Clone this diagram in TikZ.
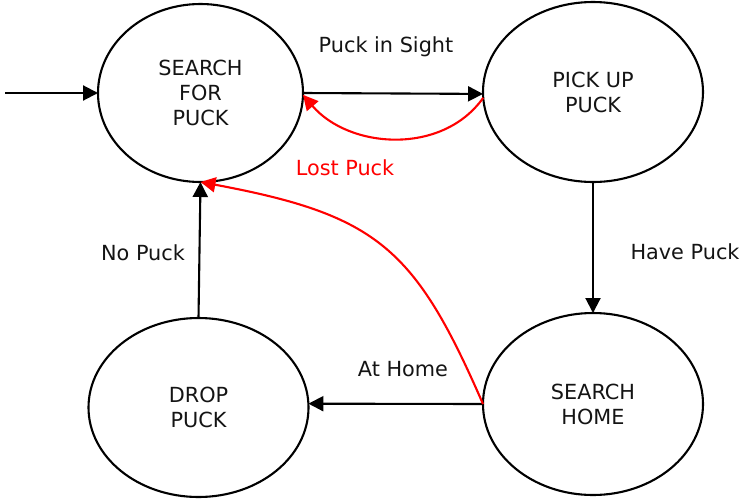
\documentclass[tikz,border=0pt]{standalone}
\usepackage{fontspec}
\setmainfont{DejaVu Sans}
\usetikzlibrary{shapes.geometric,arrows.meta}
\definecolor{txt}{RGB}{20,20,20}
\begin{document}
\begin{tikzpicture}[x=1pt,y=-1pt,
  state/.style={draw, ellipse, line width=2.1pt, inner sep=0pt, outer sep=0pt,
    align=center, text=txt, font=\fontsize{20.8}{25}\selectfont},
  edge/.style={line width=2.1pt, -{Triangle[length=15pt,width=15pt]}},
  redge/.style={edge, draw=red, -{Triangle[length=15pt,width=15pt,fill=red]}},
  lbl/.style={font=\fontsize{20.8}{25}\selectfont, inner sep=0pt, text=txt},
]
\useasboundingbox (0,0) rectangle (741,498);
\node[state, minimum width=205pt, minimum height=178pt] (s1) at (200.5,93) {SEARCH\\FOR\\PUCK};
\node[state, minimum width=220pt, minimum height=180pt] (s2) at (593,92) {PICK UP\\PUCK};
\node[state, minimum width=220pt, minimum height=179pt] (s3) at (198.5,407.5) {DROP\\PUCK};
\node[state, minimum width=220pt, minimum height=182pt] (s4) at (593,404) {SEARCH\\HOME};
\coordinate (init) at (5,93);

\draw[edge] (init) -- (s1.west);
\draw[edge] (s1.east) -- (s2.181);
\draw[redge] (s2.183.5) .. controls +(-41,58) and +(46,54) .. (s1.-1.5);
\draw[edge] (s2.south) -- (s4.north);
\draw[edge] (s4.west) -- (s3.2);
\draw[edge] (s3.north) -- (s1.south);
\draw[redge] (s4.west) .. controls +(-68,-156) and +(177,33) .. (s1.south);

\node[lbl] (l1) at (386,47) {Puck in Sight};
\node[lbl, text=red] (l2) at (345,168) {Lost Puck};
\node[lbl] (l3) at (685,252) {Have Puck};
\node[lbl] (l4) at (403,369) {At Home};
\node[lbl] (l5) at (143,253) {No Puck};
\end{tikzpicture}
\end{document}
